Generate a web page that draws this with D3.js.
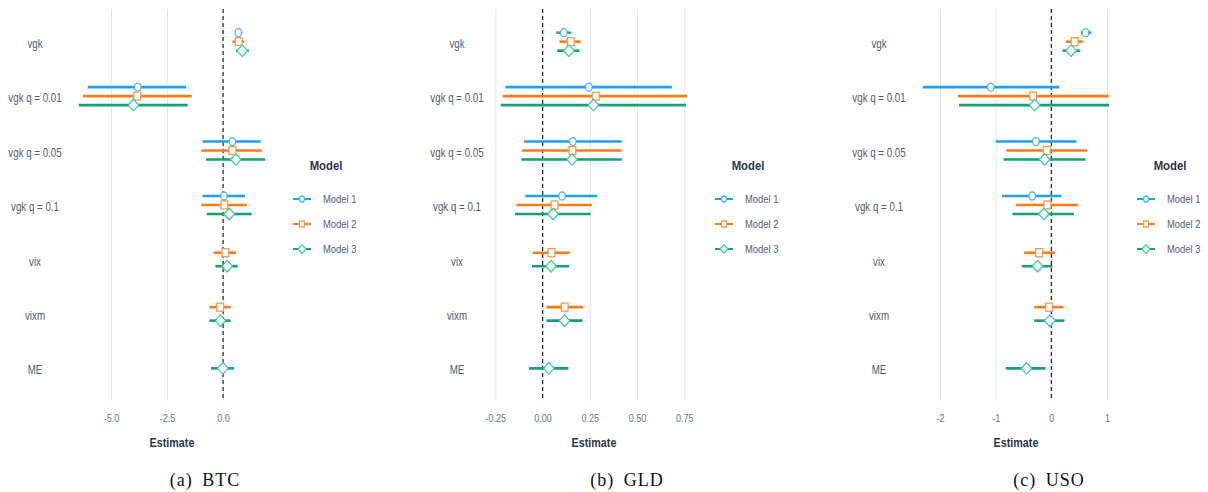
<!DOCTYPE html>
<html>
<head>
<meta charset="utf-8">
<script src="https://cdn.jsdelivr.net/npm/d3@7"></script>
<style>
  html, body { margin: 0; padding: 0; background: #fff; }
  svg { display: block; font-family: "Liberation Sans", Arial, sans-serif; }
</style>
</head>
<body>
<svg id="chart" width="1208" height="492"></svg>
<script>
// ---------------- data ----------------
const categories = ["vgk", "vgk q = 0.01", "vgk q = 0.05", "vgk q = 0.1", "vix", "vixm", "ME"];
const models = ["Model 1", "Model 2", "Model 3"];

// BTC  (rows: Model 1..3, columns: categories)
const btcEstimate = [
  [0.68, -3.81, 0.42, 0.04, null, null, null],
  [0.70, -3.83, 0.42, 0.06, 0.10, -0.13, null],
  [0.86, -4.00, 0.57, 0.28, 0.18, -0.12, -0.01]
];
const btcLower = [
  [0.54, -6.04, -0.92, -0.92, null, null, null],
  [0.42, -6.26, -0.97, -0.97, -0.42, -0.61, null],
  [0.57, -6.44, -0.76, -0.73, -0.34, -0.61, -0.54]
];
const btcUpper = [
  [0.86, -1.65, 1.68, 0.98, null, null, null],
  [0.95, -1.40, 1.73, 1.06, 0.58, 0.34, null],
  [1.15, -1.58, 1.88, 1.28, 0.66, 0.34, 0.49]
];

// GLD
const gldEstimate = [
  [0.112, 0.245, 0.160, 0.103, null, null, null],
  [0.149, 0.282, 0.158, 0.063, 0.047, 0.117, null],
  [0.139, 0.269, 0.156, 0.056, 0.045, 0.116, 0.033]
];
const gldLower = [
  [0.072, -0.197, -0.098, -0.091, null, null, null],
  [0.089, -0.211, -0.110, -0.139, -0.052, 0.020, null],
  [0.077, -0.221, -0.112, -0.146, -0.056, 0.020, -0.072]
];
const gldUpper = [
  [0.151, 0.684, 0.419, 0.290, null, null, null],
  [0.202, 0.765, 0.419, 0.262, 0.144, 0.215, null],
  [0.195, 0.758, 0.419, 0.253, 0.140, 0.211, 0.137]
];

// USO
const usoEstimate = [
  [0.615, -1.088, -0.28, -0.345, null, null, null],
  [0.417, -0.327, -0.08, -0.07, -0.219, -0.04, null],
  [0.357, -0.30, -0.12, -0.135, -0.248, -0.027, -0.446]
];
const usoLower = [
  [0.53, -2.31, -1.00, -0.885, null, null, null],
  [0.26, -1.68, -0.81, -0.633, -0.489, -0.309, null],
  [0.20, -1.66, -0.86, -0.70, -0.53, -0.309, -0.818]
];
const usoUpper = [
  [0.72, 0.14, 0.45, 0.183, null, null, null],
  [0.567, 1.03, 0.64, 0.482, 0.063, 0.22, null],
  [0.513, 1.04, 0.615, 0.405, 0.02, 0.237, -0.104]
];

const btcTicks = [-5, -2.5, 0];
const btcTickLabels = ["-5.0", "-2.5", "0.0"];
const gldTicks = [-0.25, 0, 0.25, 0.5, 0.75];
const gldTickLabels = ["-0.25", "0.00", "0.25", "0.50", "0.75"];
const usoTicks = [-2, -1, 0, 1];
const usoTickLabels = ["-2", "-1", "0", "1"];

const captions = ["(a) BTC", "(b) GLD", "(c) USO"];
const axisTitle = "Estimate";
const legendTitle = "Model";

// ---------------- styling / layout ----------------
const lineColors = ["#1ea0ee", "#fd7c17", "#12a26e"];
const markerColors = ["#48b6f5", "#fd9850", "#3ccf97"];
const shapes = ["circle", "square", "diamond"];
const SX = 0.82; // horizontal text compression as in reference
const SY = 0.78;

const panels = [
  { est: btcEstimate, lo: btcLower, hi: btcUpper, ticks: btcTicks, labels: btcTickLabels, ox: 0 },
  { est: gldEstimate, lo: gldLower, hi: gldUpper, ticks: gldTicks, labels: gldTickLabels, ox: 422 },
  { est: usoEstimate, lo: usoLower, hi: usoUpper, ticks: usoTicks, labels: usoTickLabels, ox: 844 }
];

const plotLeft = 69.5, plotRight = 274.5, plotTop = 9, plotBottom = 401;
const dodgeWidth = 27;

const svg = d3.select("#chart");

function drawMarker(g, shape, cx, cy, size, color) {
  if (shape === "circle") {
    g.append("ellipse").attr("cx", cx).attr("cy", cy)
      .attr("rx", 3.3 * size).attr("ry", 4 * size)
      .attr("fill", "#fff").attr("stroke", color).attr("stroke-width", 1.3);
  } else if (shape === "square") {
    g.append("rect").attr("x", cx - 3.4 * size).attr("y", cy - 4 * size)
      .attr("width", 6.8 * size).attr("height", 8 * size)
      .attr("fill", "#fff").attr("stroke", color).attr("stroke-width", 1.3);
  } else {
    const w = 5.3 * size, h = 5.8 * size;
    g.append("path")
      .attr("d", `M${cx},${cy - h}L${cx + w},${cy}L${cx},${cy + h}L${cx - w},${cy}Z`)
      .attr("fill", "#fff").attr("stroke", color).attr("stroke-width", 1.3);
  }
}

panels.forEach((p, pi) => {
  const g = svg.append("g").attr("transform", `translate(${p.ox},0)`);

  const allVals = p.lo.flat().concat(p.hi.flat()).filter(v => v !== null);
  const ext = d3.extent(allVals);
  const pad = (ext[1] - ext[0]) * 0.05;
  const x = d3.scaleLinear().domain([ext[0] - pad, ext[1] + pad]).range([plotLeft, plotRight]);
  const y = d3.scalePoint().domain(categories).range([plotTop, plotBottom]).padding(0.6);

  // grid lines
  const grid = g.append("g").attr("transform", `translate(0,${plotBottom})`)
    .call(d3.axisBottom(x).tickValues(p.ticks).tickSize(-(plotBottom - plotTop)).tickFormat(""));
  grid.select(".domain").remove();
  grid.selectAll("line").attr("stroke", "#e4e4e4").attr("stroke-width", 1);

  // x tick labels
  const xa = g.append("g").attr("transform", `translate(0,${plotBottom})`)
    .call(d3.axisBottom(x).tickValues(p.ticks).tickSize(0).tickPadding(13)
      .tickFormat((d, i) => p.labels[i]));
  xa.select(".domain").remove();
  xa.selectAll("text").attr("fill", "#66759a").attr("font-size", 11)
    .attr("font-family", "Liberation Sans, Arial, sans-serif")
    .attr("transform", `scale(${SX},1)`);

  // y labels (centred)
  const ya = g.append("g").attr("transform", `translate(${plotLeft},0)`)
    .call(d3.axisLeft(y).tickSize(0));
  ya.select(".domain").remove();
  ya.selectAll("text").attr("fill", "#555b68").attr("font-size", 12.5)
    .attr("font-family", "Liberation Sans, Arial, sans-serif")
    .attr("text-anchor", "middle")
    .attr("dy", "0.45em")
    .attr("x", (35 - plotLeft) / SY)
    .attr("transform", `scale(${SY},1)`);

  // zero line
  g.append("line").attr("x1", x(0)).attr("x2", x(0))
    .attr("y1", plotTop).attr("y2", plotBottom)
    .attr("stroke", "#222").attr("stroke-width", 1.2).attr("stroke-dasharray", "4,3");

  // intervals and points
  categories.forEach((c, ci) => {
    const present = models.map((m, mi) => mi).filter(mi => p.est[mi][ci] !== null);
    const n = present.length;
    present.forEach((mi, k) => {
      const off = n === 1 ? 0 : (-dodgeWidth / 2 + dodgeWidth / (2 * n) + k * dodgeWidth / n);
      const cy = y(c) + off;
      g.append("line")
        .attr("x1", x(p.lo[mi][ci])).attr("x2", x(p.hi[mi][ci]))
        .attr("y1", cy).attr("y2", cy)
        .attr("stroke", lineColors[mi]).attr("stroke-width", 2.6);
      drawMarker(g, shapes[mi], x(p.est[mi][ci]), cy, 1, markerColors[mi]);
    });
  });

  // axis title
  g.append("text").attr("x", 0).attr("y", 447)
    .attr("transform", `translate(${(plotLeft + plotRight) / 2},0) scale(0.86,1)`)
    .attr("text-anchor", "middle").attr("font-weight", "bold").attr("font-size", 12.5)
    .attr("fill", "#2c3547").text(axisTitle);

  // legend
  const lg = g.append("g");
  lg.append("text").attr("x", 0).attr("y", 170)
    .attr("transform", `translate(326,0) scale(0.87,1)`)
    .attr("text-anchor", "middle").attr("font-weight", "bold").attr("font-size", 13)
    .attr("fill", "#2c3547").text(legendTitle);
  models.forEach((m, mi) => {
    const ly = 199 + mi * 25;
    lg.append("line").attr("x1", 293).attr("x2", 311).attr("y1", ly).attr("y2", ly)
      .attr("stroke", lineColors[mi]).attr("stroke-width", 2);
    drawMarker(lg, shapes[mi], 302, ly, 0.75, markerColors[mi]);
    lg.append("text").attr("x", 0).attr("y", ly + 4)
      .attr("transform", `translate(323,0) scale(${SX},1)`)
      .attr("font-size", 11.5).attr("fill", "#545d73").text(m);
  });

  // caption
  g.append("text").attr("x", 205).attr("y", 486)
    .attr("text-anchor", "middle")
    .attr("font-family", "Liberation Serif, 'DejaVu Serif', serif")
    .attr("font-size", 18).attr("letter-spacing", 1).attr("word-spacing", 4)
    .attr("fill", "#111").text(captions[pi]);
});
</script>
</body>
</html>
